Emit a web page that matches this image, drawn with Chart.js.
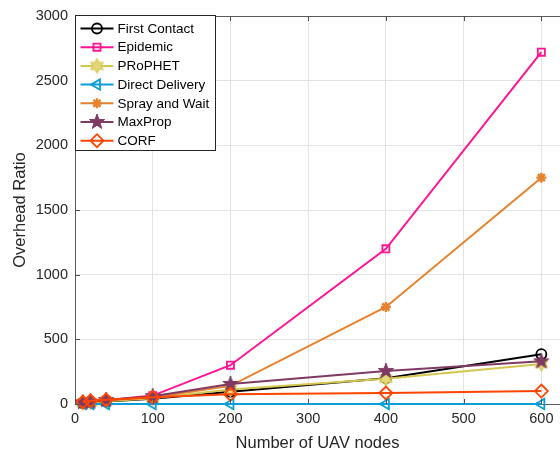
<!DOCTYPE html>
<html>
<head>
<meta charset="utf-8">
<script src="https://cdn.jsdelivr.net/npm/chart.js@4.4.1/dist/chart.umd.min.js"></script>
<style>
  html, body { margin: 0; padding: 0; background: #fff; }
</style>
</head>
<body>
<canvas id="overheadChart" width="560" height="453"></canvas>
<script>
// x values (number of UAV nodes)
const nodeCounts = [10, 20, 40, 100, 200, 400, 600];

// overhead ratio per protocol
const firstContact   = [8, 12, 20, 40, 95, 200, 385];
const epidemic       = [10, 15, 30, 65, 300, 1200, 2720];
const prophet        = [8, 12, 22, 45, 112, 195, 310];
const directDelivery = [0, 0, 0, 0, 0, 0, 0];
const sprayAndWait   = [10, 15, 28, 50, 140, 750, 1750];
const maxProp        = [12, 18, 30, 60, 155, 255, 330];
const corf           = [15, 25, 32, 52, 75, 85, 100];

const seriesNames = ['First Contact', 'Epidemic', 'PRoPHET', 'Direct Delivery', 'Spray and Wait', 'MaxProp', 'CORF'];
const xTickValues = [0, 100, 200, 300, 400, 500, 600];
const yTickValues = [0, 500, 1000, 1500, 2000, 2500, 3000];

const FONT = "'Liberation Sans', Arial, sans-serif";
const TEXT = '#262626';

// star shaped markers (pentagram / hexagram) drawn once into small canvases
function starMarker(points, outer, inner, stroke, fill, lw) {
    const size = Math.ceil(outer * 2 + lw * 2 + 2);
    const c = document.createElement('canvas');
    c.width = size; c.height = size;
    const g = c.getContext('2d');
    const cx = size / 2, cy = size / 2;
    g.beginPath();
    for (let i = 0; i < points * 2; i++) {
        const r = i % 2 ? inner : outer;
        const a = -Math.PI / 2 + i * Math.PI / points;
        g.lineTo(cx + r * Math.cos(a), cy + r * Math.sin(a));
    }
    g.closePath();
    if (fill) { g.fillStyle = fill; g.fill(); }
    g.strokeStyle = stroke; g.lineWidth = lw; g.stroke();
    return c;
}

const colors = ['#000000', '#FF1493', '#D4C650', '#0A9ED8', '#E6822D', '#7E3A62', '#FF4500'];
const hexagram = starMarker(6, 7, 7 / Math.sqrt(3), colors[2], '#E2D87A', 1.2);
const pentagram = starMarker(5, 8, 3.2, colors[5], colors[5], 1);

const seriesValues = [firstContact, epidemic, prophet, directDelivery, sprayAndWait, maxProp, corf];
const markers = [
    { style: 'circle', r: 5, rot: 0 },
    { style: 'rect', r: 5, rot: 0 },
    { style: hexagram, r: 6, rot: 0 },
    { style: 'triangle', r: 6, rot: -90 },
    { style: 'star', r: 5, rot: 0 },
    { style: pentagram, r: 7, rot: 0 },
    { style: 'rectRot', r: 6.5, rot: 0 },
];

const datasets = seriesNames.map((name, i) => ({
    label: name,
    data: nodeCounts.map((n, k) => ({ x: n, y: seriesValues[i][k] })),
    borderColor: colors[i],
    backgroundColor: colors[i],
    borderWidth: 2,
    pointStyle: markers[i].style,
    pointRadius: markers[i].r,
    pointRotation: markers[i].rot,
    pointBorderWidth: i === 4 ? 2.4 : 1.8,
    pointBorderColor: colors[i],
    pointBackgroundColor: 'rgba(0,0,0,0)',
    clip: false,
    order: 10 - i,
}));

// MATLAB style inward ticks
const innerTicks = {
    id: 'innerTicks',
    afterDatasetsDraw(chart) {
        const { ctx, chartArea: a, scales: { x, y } } = chart;
        ctx.save();
        ctx.strokeStyle = '#4d4d4d';
        ctx.lineWidth = 1;
        ctx.beginPath();
        x.ticks.forEach(t => {
            const px = Math.round(x.getPixelForValue(t.value)) + 0.5;
            ctx.moveTo(px, a.bottom); ctx.lineTo(px, a.bottom - 5);
            ctx.moveTo(px, a.top); ctx.lineTo(px, a.top + 5);
        });
        y.ticks.forEach(t => {
            const py = Math.round(y.getPixelForValue(t.value)) + 0.5;
            ctx.moveTo(a.left, py); ctx.lineTo(a.left + 5, py);
        });
        ctx.stroke();
        ctx.restore();
    }
};

// legend box in the top-left corner of the axes
const legendBox = {
    id: 'legendBox',
    afterDatasetsDraw(chart) {
        const { ctx, chartArea: a } = chart;
        const x0 = Math.round(a.left) + 0.5, y0 = Math.round(a.top) - 0.5;
        const w = 140, h = 135;
        ctx.save();
        ctx.fillStyle = '#fff';
        ctx.fillRect(x0, y0, w, h);
        ctx.strokeStyle = '#262626';
        ctx.lineWidth = 1;
        ctx.strokeRect(x0, y0, w, h);
        ctx.font = '13.5px ' + FONT;
        ctx.textBaseline = 'middle';
        chart.data.datasets.forEach((ds, i) => {
            const y = y0 + 13 + i * 18.7;
            ctx.strokeStyle = ds.borderColor;
            ctx.lineWidth = 2;
            ctx.beginPath();
            ctx.moveTo(x0 + 5, y); ctx.lineTo(x0 + 38, y);
            ctx.stroke();
            ctx.lineWidth = ds.pointBorderWidth;
            ctx.fillStyle = ds.pointBackgroundColor;
            Chart.helpers.drawPoint(ctx, {
                pointStyle: ds.pointStyle,
                rotation: ds.pointRotation,
                radius: ds.pointRadius,
                borderWidth: ds.pointBorderWidth,
            }, x0 + 21.5, y);
            ctx.fillStyle = '#000';
            ctx.fillText(ds.label, x0 + 42, y + 0.5);
        });
        ctx.restore();
    }
};

new Chart(document.getElementById('overheadChart').getContext('2d'), {
    type: 'line',
    data: { datasets },
    options: {
        responsive: false,
        animation: false,
        devicePixelRatio: 1,
        layout: { autoPadding: false, padding: { top: 16, right: 0, bottom: 0, left: 0 } },
        plugins: { legend: { display: false }, tooltip: { enabled: false } },
        scales: {
            x: {
                type: 'linear',
                min: 0,
                max: 624,
                afterBuildTicks: s => { s.ticks = xTickValues.map(v => ({ value: v })); },
                afterFit: s => { s.height = 49; s.paddingLeft = 0; s.paddingRight = 0; },
                grid: { color: '#e3e3e3', drawTicks: false },
                border: { color: '#5a5a5a' },
                ticks: { color: TEXT, font: { family: FONT, size: 14.5 }, padding: 6, maxRotation: 0,
                         callback: v => String(v) },
                title: { display: true, text: 'Number of UAV nodes', color: TEXT,
                         font: { family: FONT, size: 16.5 }, padding: { top: 0, bottom: 0 } },
            },
            y: {
                min: 0,
                max: 3000,
                afterBuildTicks: s => { s.ticks = yTickValues.map(v => ({ value: v })); },
                afterFit: s => { s.width = 75; },
                grid: { color: c => (c.tick && c.tick.value === 3000 ? '#5a5a5a' : '#e3e3e3'), drawTicks: false },
                border: { color: '#5a5a5a' },
                ticks: { color: TEXT, font: { family: FONT, size: 14.5 }, padding: 7,
                         callback: v => String(v) },
                title: { display: true, text: 'Overhead Ratio', color: TEXT,
                         font: { family: FONT, size: 16.5 }, padding: { top: 11, bottom: 0 } },
            },
        },
    },
    plugins: [innerTicks, legendBox],
});
</script>
</body>
</html>
